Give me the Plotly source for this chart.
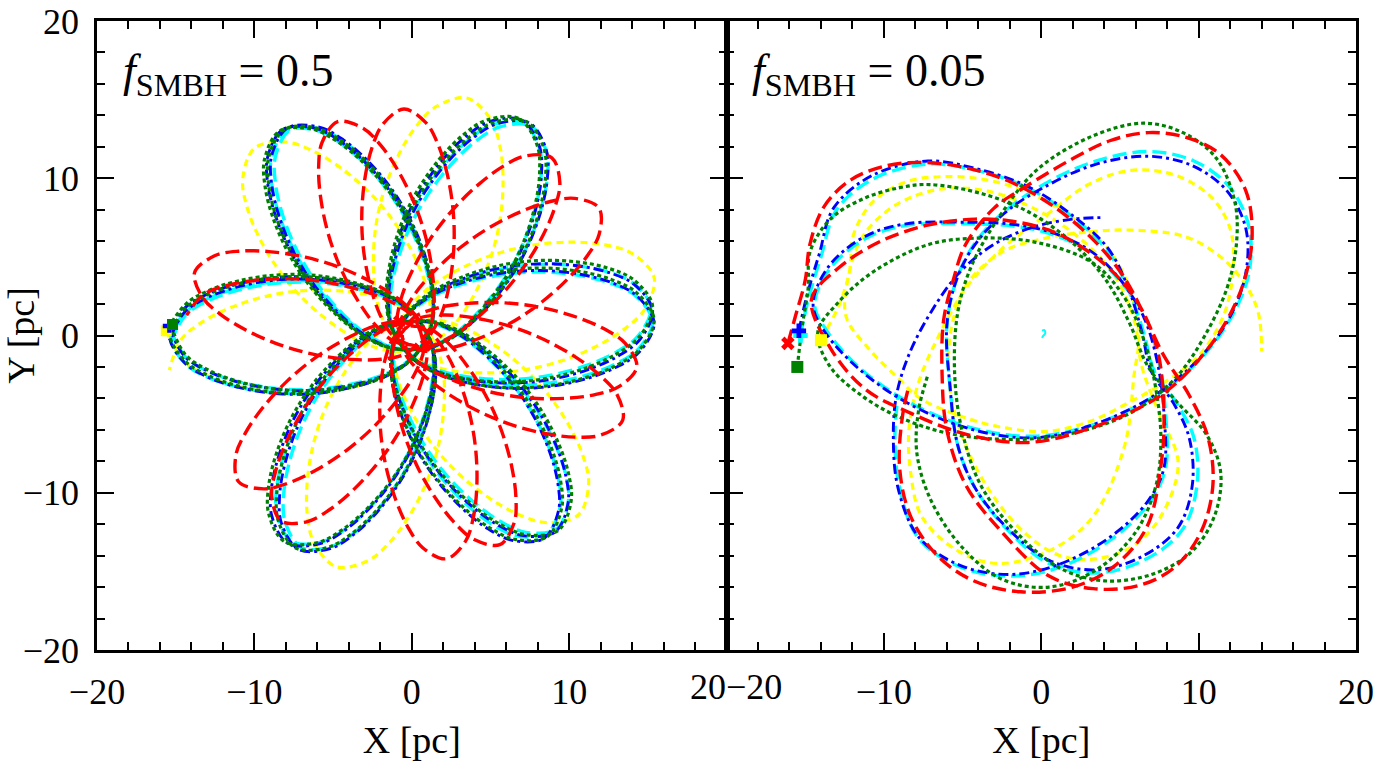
import math
import plotly.graph_objects as go

FONT = "Liberation Serif"

# ======================= LEFT PANEL  (f_SMBH = 0.5) =======================
# Shape of one orbit petal read from the blue petal pointing to -x:
# distance along the petal axis (pc) and half-width of the petal (pc)
PETAL_U = [0.0, 1.5, 3.5, 6.0, 8.5, 11.0, 13.0, 14.5, 15.5]
PETAL_V = [1.5, 2.5, 3.2, 3.65, 3.68, 3.3, 2.65, 1.75, 0.0]

# apocentres of the successive petals (pc), in orbital order
L_YELLOW_APO_X = [-15.6, -10.0, 3.5, 15.4, 10.6, -4.8, -15.4]
L_YELLOW_APO_Y = [0.3, 11.9, 15.1, 3.7, -11.4, -14.7, -2.2]

L_CYAN_APO_X = [-15.3, -7.7, 7.6, 15.3, 8.6, -7.0, -15.3, -8.0, 7.1, 15.2, 9.2, -7.6, -15.3]
L_CYAN_APO_Y = [0.3, 13.1, 13.3, 0.9, -12.6, -13.5, -0.2, 13.0, 13.5, 1.8, -12.3, -13.1, -0.4]

L_BLUE_APO_X = [-15.4, -7.9, 7.5, 15.4, 8.4, -7.2, -15.4, -8.2, 7.0, 15.3, 9.1, -7.9, -15.4]
L_BLUE_APO_Y = [0.5, 13.2, 13.5, 0.8, -12.9, -13.6, 0.0, 13.1, 13.7, 1.6, -12.5, -13.2, -0.3]

L_GREEN_APO_X = [-15.3, -8.1, 7.3, 15.4, 8.6, -7.4, -15.4, -8.4, 6.8, 15.3, 9.3, -8.1, -15.4]
L_GREEN_APO_Y = [0.6, 13.1, 13.6, 1.0, -12.8, -13.5, 0.2, 13.0, 13.8, 1.9, -12.4, -13.1, -0.1]

L_RED_APO_X = [-0.5, 11.9, 13.4, 2.2, -11.0, -13.8, -4.7, 8.9, 14.3, 5.6, -8.3, -14.3]
L_RED_APO_Y = [14.4, 8.1, -5.4, -14.2, -9.3, 4.0, 13.6, 11.3, -2.0, -13.3, -11.8, 1.3]

# petal half-widths and pericentre distances (pc)
L_HALFWIDTH = {"yellow": 3.8, "cyan": 3.55, "blue": 3.7, "green": 3.75, "red": 2.9}
L_PERI = {"yellow": 0.9, "cyan": 0.85, "blue": 0.9, "green": 0.9, "red": 0.6}

# markers in the left panel
L_MARK_X = {"yellow": [-15.6], "blue": [-15.4], "green": [-15.2], "red": [-0.8, 0.9]}
L_MARK_Y = {"yellow": [0.3], "blue": [0.6], "green": [0.7], "red": [0.9, -0.6]}

# ======================= RIGHT PANEL (f_SMBH = 0.05) =======================
R_YELLOW_X = [-14.0, -12.9, -12.2, -11.9, -10.6, -8.5, -6.2, -3.5, -0.6, 2.1, 4.4, 5.6, 6.2, 5.9, 5.3, 3.3, 0.7,
              -2.7, -5.3, -7.6, -8.3, -8.4, -7.8, -6.5, -4.8, -2.5, 0.5, 3.0, 5.7, 8.5, 10.8, 12.0, 12.2, 11.6,
              10.0, 7.8, 5.5, 3.0, 0.3, -2.7, -5.2, -7.7, -9.1, -11.0, -12.4, -12.3, -11.4, -9.4, -6.5, -3.5,
              -0.5, 2.3, 4.6, 5.9, 6.4, 7.5, 8.7, 7.6, 5.8, 3.5, 1.2, -1.0, -3.2, -4.8, -5.7, -5.9, -5.6, -4.7,
              -2.5, 0.3, 3.1, 5.7, 9.1, 11.4, 13.0, 13.8, 14.0]
R_YELLOW_Y = [-0.2, 1.8, 4.0, 6.5, 8.6, 9.8, 10.1, 9.9, 9.0, 7.4, 5.3, 3.0, 0.0, -2.5, -7.0, -11.5, -13.6,
              -14.5, -13.7, -11.5, -8.7, -5.9, -3.0, 0.0, 3.0, 5.5, 7.8, 9.6, 10.5, 10.2, 8.8, 6.8, 4.3, 1.3,
              -1.3, -3.0, -4.3, -5.5, -6.1, -5.8, -5.1, -4.0, -2.7, -0.8, 1.2, 3.5, 6.2, 8.2, 9.3, 9.2,
              8.1, 6.3, 3.9, 1.0, -2.0, -5.0, -8.1, -11.5, -13.4, -14.2, -14.0, -12.6, -10.0, -7.0, -4.0, -1.5, 1.0, 3.3,
              5.3, 6.2, 6.6, 6.7, 6.3, 5.0, 3.2, 1.4, -1.0]

R_CYAN_X = [-15.3, -14.8, -14.0, -13.0, -10.6, -7.2, -4.1, -0.9, 1.9, 4.2, 5.5, 6.5, 7.2, 8.6, 9.7, 9.9, 9.0,
            6.7, 3.6, 0.5, -2.1, -4.2, -5.3, -5.8, -6.0, -5.4, -4.2, -2.2, 0.5, 3.5, 6.8, 9.7, 12.0, 13.2,
            13.2, 12.1, 10.1, 7.3, 3.5, -0.4, -4.3, -8.3, -11.5, -13.7, -14.4, -13.4, -11.1, -8.6, -4.7,
            -2.1, 0.5, 3.1, 4.9, 6.6, 7.5, 7.9, 7.9, 6.9, 4.4, 1.0, -2.1, -5.2, -7.8, -9.0, -9.3, -9.1]
R_CYAN_Y = [0.0, 2.3, 5.0, 8.0, 10.0, 10.9, 10.5, 9.4, 7.6, 5.4, 3.0, 0.2, -2.3, -4.3, -6.5, -9.5, -12.3,
            -14.2, -15.1, -14.5, -12.4, -9.7, -7.0, -3.2, 0.6, 3.5, 5.9, 8.0, 9.8, 11.1, 11.7, 11.1, 9.4, 6.9,
            4.0, 1.2, -1.5, -3.8, -5.6, -6.4, -5.9, -4.3, -2.1, 0.4, 2.0, 4.3, 6.2, 7.0, 7.1,
            7.0, 6.5, 5.3, 3.6, 1.2, -1.8, -5.0, -8.4, -10.6, -13.0, -14.8, -15.3, -14.7, -12.9, -9.7, -6.5, -3.8]

R_BLUE_X = [-15.4, -14.9, -14.1, -13.2, -10.7, -7.2, -4.1, -0.9, 1.9, 4.2, 5.5, 6.4, 7.0, 8.4, 9.4, 9.6, 8.7,
            6.5, 3.5, 0.5, -2.1, -4.2, -5.3, -5.8, -6.0, -5.4, -4.2, -2.2, 0.5, 3.5, 6.8, 9.6, 11.8, 13.0,
            13.0, 12.0, 10.0, 7.2, 3.5, -0.4, -4.3, -8.3, -11.5, -13.8, -14.5, -13.5, -11.2, -8.6, -4.7,
            -2.1, 0.5, 3.1, 4.9, 6.5, 7.4, 7.8, 7.8, 6.8, 4.4, 1.0, -2.1, -5.2, -7.8, -9.1, -9.4, -9.2,
            -8.4, -7.0, -5.2, -3.0, -0.5, 2.0, 4.0]
R_BLUE_Y = [0.3, 2.5, 5.2, 8.1, 10.2, 11.1, 10.6, 9.5, 7.7, 5.6, 3.1, 0.2, -2.3, -4.3, -6.5, -9.5, -12.2,
            -14.0, -14.9, -14.3, -12.3, -9.7, -7.0, -3.2, 0.6, 3.5, 5.8, 7.9, 9.6, 10.9, 11.4, 10.8, 9.2, 6.8,
            4.0, 1.2, -1.5, -3.8, -5.6, -6.5, -6.0, -4.4, -2.2, 0.3, 2.0, 4.4, 6.3, 7.1, 7.2,
            7.1, 6.6, 5.4, 3.7, 1.2, -1.8, -5.0, -8.4, -10.5, -12.8, -14.6, -15.2, -14.6, -12.8, -9.7, -6.5, -3.8,
            -1.2, 1.5, 4.0, 5.8, 6.9, 7.4, 7.5]

R_GREEN_X = [-15.5, -15.2, -14.8, -14.7, -13.4, -11.3, -9.0, -7.1, -3.7, -0.7, 2.1, 4.2, 5.6, 6.8, 8.6, 10.5,
             11.4, 11.0, 9.5, 7.0, 4.0, 1.2, -1.5, -3.8, -5.0, -5.5, -5.3, -4.4, -2.5, -0.2, 3.3, 6.5, 9.0,
             11.1, 12.3, 12.4, 11.8, 10.4, 8.8, 6.7, 4.4, 1.0, -2.5, -6.0, -9.0, -11.3, -13.4, -14.2, -12.9,
             -10.6, -7.1, -3.7, -0.2, 3.3, 5.3, 6.6, 7.3, 7.6, 7.3, 6.0, 3.5, 0.5, -2.5, -5.0, -7.0, -7.9,
             -7.8, -7.2]
R_GREEN_Y = [-2.0, 0.5, 3.1, 5.3, 7.4, 8.7, 9.4, 9.6, 9.0, 7.8, 5.8, 3.4, 0.8, -2.0, -4.2, -6.3,
             -8.7, -11.5, -13.8, -15.2, -15.6, -14.8, -12.6, -9.6, -6.2, -2.5, 1.5, 4.5, 7.8, 10.6, 12.7, 13.5, 12.9,
             11.3, 8.5, 5.8, 3.0, 0.0, -2.4, -4.3, -5.5, -6.4, -6.6, -6.2, -5.2, -3.9, -2.0, 0.2, 2.1,
             4.1, 5.8, 6.2, 5.9, 4.6, 2.4, -0.5, -3.5, -6.5, -9.5, -12.5, -14.9, -16.0, -15.5, -13.5, -10.5, -7.5,
             -4.8, -2.5]

R_RED_X = [-16.1, -15.6, -15.0, -14.7, -13.8, -12.1, -9.8, -7.3, -4.5, -1.8, 0.8, 3.3, 5.2, 6.6, 7.8, 9.4,
           10.6, 10.9, 10.1, 8.4, 6.2, 3.3, 0.5, -2.5, -4.8, -6.0, -6.3, -6.2, -5.6, -4.8, -3.0, -1.1, 2.1,
           4.4, 6.8, 9.2, 11.4, 13.0, 13.4, 12.9, 11.7, 9.7, 7.3, 3.1, -0.8, -4.7, -8.6, -11.2, -13.4,
           -14.6, -13.0, -10.4, -7.3, -4.2, -2.1, 0.5, 2.6, 4.6, 6.3, 7.4, 7.8, 7.6, 6.7, 4.6, 2.0, -1.3,
           -4.3, -6.6, -8.3, -9.0, -8.8, -8.4]
R_RED_Y = [-0.5, 1.3, 3.5, 5.8, 8.2, 9.9, 10.8, 11.0, 10.6, 9.7, 8.2, 6.1, 3.8, 1.2, -1.3, -3.8,
           -6.5, -9.6, -12.6, -14.8, -15.9, -16.1, -15.3, -12.5, -9.5, -6.0, -2.5, 1.0, 3.5, 5.8, 8.1, 9.4, 11.3,
           12.4, 12.9, 12.6, 11.5, 9.2, 6.3, 3.5, 0.8, -1.9, -4.0, -5.9, -6.8, -6.3, -4.8, -3.4, -0.8,
           2.3, 4.2, 5.9, 7.0, 7.4, 7.3, 6.7, 5.6, 4.0, 1.8, -1.0, -5.0, -8.3, -12.2, -14.7, -16.0, -16.3,
           -15.6, -14.0, -11.5, -8.4, -5.0, -3.2]

R_CORE_X = [0.05, 0.2, 0.25, 0.12, 0.05]
R_CORE_Y = [0.3, 0.35, 0.12, -0.02, -0.15]

R_MARK = {"yellow": (-14.0, -0.3), "cyan": (-15.3, 0.0), "blue": (-15.4, 0.3),
          "green": (-15.5, -2.0), "red": (-16.1, -0.5)}

# tick labels
X_TICKS = [-20, -10, 0, 10, 20]
X_TICKTEXT_LEFT = ["\u221220", "\u221210", "0", "10", ""]
X_TICKTEXT_RIGHT = ["", "\u221210", "0", "10", "20"]
Y_TICKTEXT = ["\u221220", "\u221210", "0", "10", "20"]

# ======================= styles =======================
COL = {"yellow": "#ffff00", "cyan": "#00ffff", "blue": "#0000ff", "green": "#008000", "red": "#ff0000"}
DASH = {"yellow": "7px,5px", "cyan": "14px,6px", "blue": "10px,4px,3px,4px",
        "green": "4px,3px", "red": "14px,6px"}
WID = {"yellow": 3.2, "cyan": 3.4, "blue": 2.9, "green": 3.2, "red": 3.4}
MSYM = {"yellow": "square", "cyan": "cross", "blue": "cross", "green": "square", "red": "x"}
ORDER = ["yellow", "cyan", "blue", "green", "red"]


def rosette(apx, apy, halfw, peri, start_at_apo, end_at_apo):
    vmax = max(PETAL_V)
    n = len(apx)
    units = []
    for k in range(n):
        q = math.hypot(apx[k], apy[k])
        units.append((apx[k] / q, apy[k] / q, q))
    xs, ys = [], []
    for k in range(n):
        ex, ey, q = units[k]
        nx, ny = -ey, ex
        su = q / PETAL_U[-1]
        sv = halfw / vmax
        out = [(u * su * ex - v * sv * nx, u * su * ey - v * sv * ny)
               for u, v in zip(PETAL_U[:-1], PETAL_V[:-1])]
        back = [(u * su * ex + v * sv * nx, u * su * ey + v * sv * ny)
                for u, v in zip(PETAL_U[-2::-1], PETAL_V[-2::-1])]
        pts = []
        if not (k == 0 and start_at_apo):
            pts += out
        pts.append((apx[k], apy[k]))
        if not (k == n - 1 and end_at_apo):
            pts += back
        if k < n - 1:
            ex2, ey2, _ = units[k + 1]
            bx, by = ex + ex2, ey + ey2
            bn = math.hypot(bx, by)
            pts.append((-peri * bx / bn, -peri * by / bn))
        for p in pts:
            xs.append(p[0])
            ys.append(p[1])
    return xs, ys


LEFT = {
    "yellow": (L_YELLOW_APO_X, L_YELLOW_APO_Y, True, True),
    "cyan": (L_CYAN_APO_X, L_CYAN_APO_Y, True, True),
    "blue": (L_BLUE_APO_X, L_BLUE_APO_Y, True, True),
    "green": (L_GREEN_APO_X, L_GREEN_APO_Y, True, True),
    "red": (L_RED_APO_X, L_RED_APO_Y, False, True),
}
RIGHT = {
    "yellow": (R_YELLOW_X, R_YELLOW_Y),
    "cyan": (R_CYAN_X, R_CYAN_Y),
    "blue": (R_BLUE_X, R_BLUE_Y),
    "green": (R_GREEN_X, R_GREEN_Y),
    "red": (R_RED_X, R_RED_Y),
}

fig = go.Figure()

for c in ORDER:
    ax_, ay_, s_apo, e_apo = LEFT[c]
    xs, ys = rosette(ax_, ay_, L_HALFWIDTH[c], L_PERI[c], s_apo, e_apo)
    fig.add_trace(go.Scatter(x=xs, y=ys, mode="lines", xaxis="x", yaxis="y",
                             line=dict(color=COL[c], width=WID[c], dash=DASH[c],
                                       shape="spline", smoothing=1.0),
                             hoverinfo="skip", showlegend=False))
for c in ORDER:
    if c in L_MARK_X:
        fig.add_trace(go.Scatter(x=L_MARK_X[c], y=L_MARK_Y[c], mode="markers", xaxis="x", yaxis="y",
                                 marker=dict(symbol=MSYM[c], size=11, color=COL[c]),
                                 hoverinfo="skip", showlegend=False))

for c in ORDER:
    xs, ys = RIGHT[c]
    fig.add_trace(go.Scatter(x=xs, y=ys, mode="lines", xaxis="x2", yaxis="y2",
                             line=dict(color=COL[c], width=WID[c], dash=DASH[c],
                                       shape="spline", smoothing=1.0),
                             hoverinfo="skip", showlegend=False))
fig.add_trace(go.Scatter(x=R_CORE_X, y=R_CORE_Y, mode="lines", xaxis="x2", yaxis="y2",
                         line=dict(color=COL["cyan"], width=2, shape="spline"),
                         hoverinfo="skip", showlegend=False))
for c in ORDER:
    mx, my = R_MARK[c]
    fig.add_trace(go.Scatter(x=[mx], y=[my], mode="markers", xaxis="x2", yaxis="y2",
                             marker=dict(symbol=MSYM[c], size=12, color=COL[c],
                                         line=dict(width=0)),
                             hoverinfo="skip", showlegend=False))

TICKSIZE = 36
TICKFONT = dict(family=FONT, size=TICKSIZE, color="black")
TITLEFONT = dict(family=FONT, size=38, color="black")


def axis(domain, title, ticktext, anchor, show_labels=True, standoff=16):
    return dict(domain=domain, range=[-20, 20], tickvals=X_TICKS, ticktext=ticktext,
                ticks="inside", ticklen=17, tickwidth=2, tickcolor="black",
                showline=True, linewidth=2.5, linecolor="black", mirror="ticks",
                showgrid=False, zeroline=False, showticklabels=show_labels,
                tickfont=TICKFONT, automargin=False, anchor=anchor, ticklabelstandoff=8,
                minor=dict(ticks="inside", dtick=2, ticklen=8, tickwidth=1.5,
                           tickcolor="black", showgrid=False),
                title=dict(text=title, font=TITLEFONT, standoff=standoff) if title else None)


fig.update_layout(
    width=1382, height=761,
    margin=dict(l=97, r=26, t=21, b=111),
    paper_bgcolor="white", plot_bgcolor="white",
    xaxis=axis([0, 0.5], "X [pc]", X_TICKTEXT_LEFT, "y", standoff=18),
    yaxis=axis([0, 1], "Y [pc]", Y_TICKTEXT, "x", standoff=0),
    xaxis2=axis([0.5, 1], "X [pc]", X_TICKTEXT_RIGHT, "y2", standoff=18),
    yaxis2=axis([0, 1], None, Y_TICKTEXT, "x2", show_labels=False),
    annotations=[
        dict(x=-18.5, y=16.6, xref="x", yref="y", xanchor="left", yanchor="middle", showarrow=False,
             text="<i>f</i><sub>SMBH</sub> = 0.5", font=dict(family=FONT, size=46, color="black")),
        dict(x=-18.5, y=16.6, xref="x2", yref="y2", xanchor="left", yanchor="middle", showarrow=False,
             text="<i>f</i><sub>SMBH</sub> = 0.05", font=dict(family=FONT, size=46, color="black")),
        # the two tick labels that meet at the shared border
        dict(x=20, y=0, xref="x", yref="paper", xanchor="right", yanchor="top", showarrow=False,
             yshift=-15, xshift=1, text="20", font=TICKFONT),
        dict(x=-20, y=0, xref="x2", yref="paper", xanchor="left", yanchor="top", showarrow=False,
             yshift=-15, xshift=-3, text="\u221220", font=TICKFONT),
    ],
)

fig.write_html("out.html")
